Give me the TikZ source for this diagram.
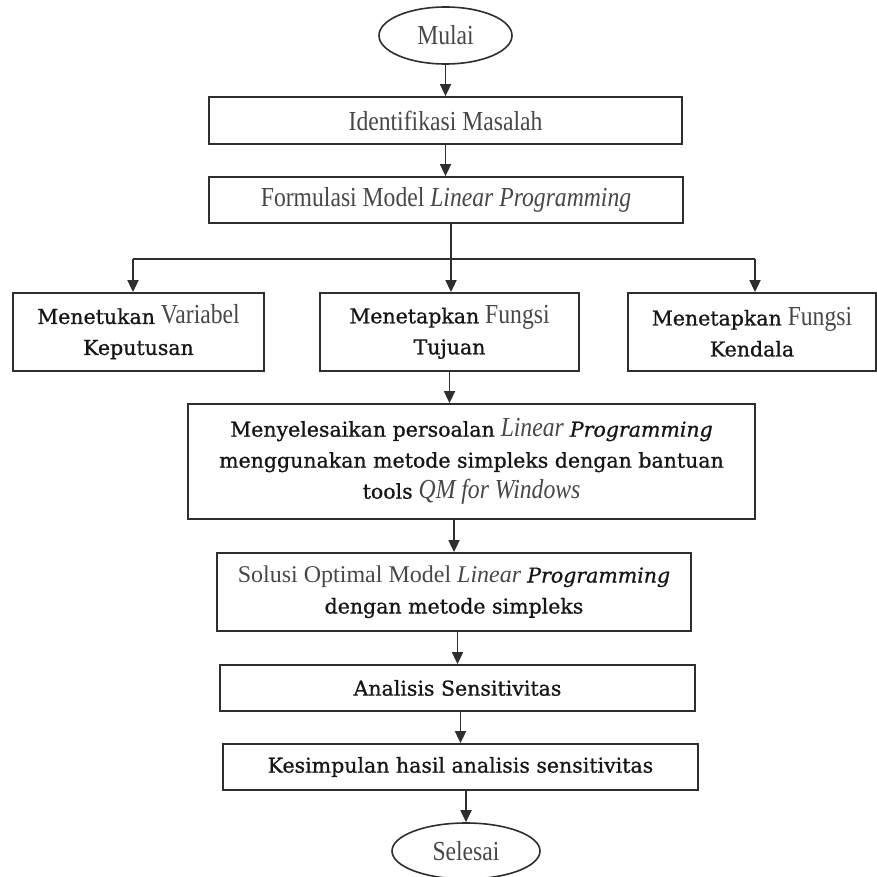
\documentclass[tikz,border=0pt]{standalone}
\usepackage{fontspec}
\setmainfont{Liberation Serif}
\newfontfamily\dkfont[FakeBold=0.9]{DejaVu Serif}
\newfontfamily\cnfont[FakeStretch=0.86]{Liberation Serif}
\usetikzlibrary{shapes.geometric,arrows.meta}
\definecolor{lightc}{HTML}{474747}
\definecolor{darkc}{HTML}{161616}
\definecolor{linec}{HTML}{2E2E2E}
\newcommand\lw[1]{{\cnfont\fontsize{27.5}{31}\selectfont\color{lightc}#1}}
\newcommand\lwn[1]{{\fontsize{24}{31}\selectfont\color{lightc}#1}}
\newcommand\dw[1]{{\dkfont\fontsize{20.5}{31}\selectfont\color{darkc}#1}}
\tikzset{
  box/.style={draw=linec, line width=1.8pt, rectangle, inner sep=0pt, align=center,
    font=\fontsize{24}{31}\selectfont},
  oval/.style={draw=linec, line width=1.6pt, ellipse, inner sep=0pt, align=center,
    font=\fontsize{24}{31}\selectfont},
  arr/.style={draw=linec, line width=1.8pt, -{Triangle[length=12pt,width=11pt]}},
  ln/.style={draw=linec, line width=1.8pt}
}
\begin{document}
\begin{tikzpicture}[x=1pt,y=-1pt]
\useasboundingbox (0,0) rectangle (877,877);
\node[oval, minimum width=133pt, minimum height=57pt] (mulai) at (445.5,35.5) {\lw{Mulai}};
\node[box, minimum width=473pt, minimum height=47pt] (iden) at (445.5,120.5) {\lw{Identifikasi Masalah}};
\node[box, minimum width=474pt, minimum height=46pt] (form) at (446,200) {\lw{Formulasi Model \textit{Linear Programming}}};
\node[box, minimum width=251pt, minimum height=78pt] (left) at (138.5,332)
  {\dw{Menetukan} \lw{Variabel}\\ \dw{Keputusan}};
\node[box, minimum width=259pt, minimum height=78pt] (mid) at (449.5,332)
  {\dw{Menetapkan} \lw{Fungsi}\\ \dw{Tujuan}};
\node[box, minimum width=248pt, minimum height=78pt] (right) at (752,332)
  {\dw{Menetapkan} \lw{Fungsi}\\ \dw{Kendala}};
\node[box, minimum width=567pt, minimum height=115pt] (big) at (471.5,461.5)
  {\dw{Menyelesaikan persoalan} \lw{\textit{Linear}} \dw{\textit{Programming}}\\
   \dw{menggunakan metode simpleks dengan bantuan}\\
   \dw{tools} \lw{\textit{QM for Windows}}};
\node[box, minimum width=474pt, minimum height=78pt] (sol) at (454,592)
  {\lwn{Solusi Optimal Model \textit{Linear}} \dw{\textit{Programming}}\\ \dw{dengan metode simpleks}};
\node[box, minimum width=475pt, minimum height=46pt] (ana) at (457.5,688) {\dw{Analisis Sensitivitas}};
\node[box, minimum width=475pt, minimum height=46pt] (kes) at (460.5,767) {\dw{Kesimpulan hasil analisis sensitivitas}};
\node[oval, minimum width=148pt, minimum height=56pt] (sel) at (466,851) {\lw{Selesai}};
\coordinate (hub) at (451,259);
\coordinate (hubL) at (133,259);
\coordinate (hubR) at (755,259);
\draw[arr] (mulai.south) -- (mulai.south |- iden.north);
\draw[arr] (iden.south) -- (iden.south |- form.north);
\draw[ln] (form.south -| hub) -- (hub);
\draw[ln] (hubL) -- (hubR);
\draw[arr] (hubL) -- (hubL |- left.north);
\draw[arr] (hub) -- (hub |- mid.north);
\draw[arr] (hubR) -- (hubR |- right.north);
\draw[arr] (mid.south) -- (mid.south |- big.north);
\draw[arr] (big.south -| sol.north) -- (sol.north);
\draw[arr] (sol.south -| ana.north) -- (ana.north);
\draw[arr] (ana.south -| kes.north) -- (kes.north);
\draw[arr] (kes.south -| sel.north) -- (sel.north);
\end{tikzpicture}
\end{document}
